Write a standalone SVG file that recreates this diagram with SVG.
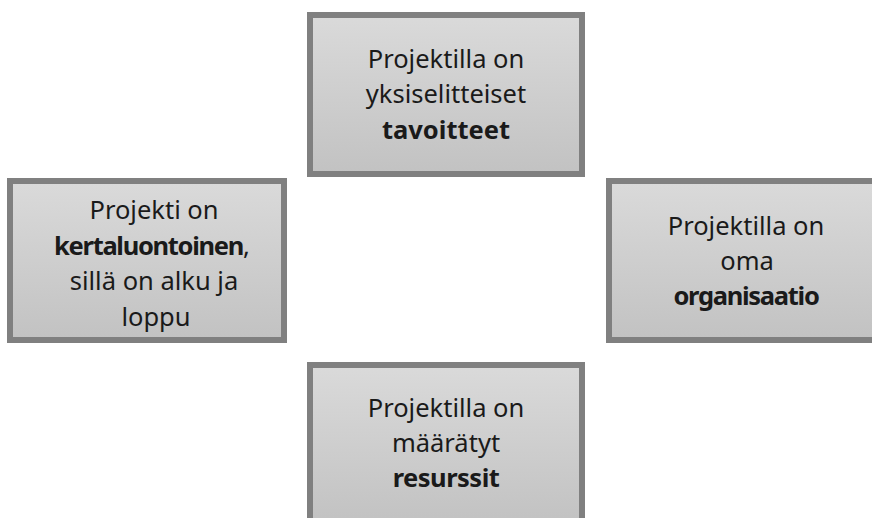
<svg xmlns="http://www.w3.org/2000/svg" width="872" height="518" viewBox="0 0 872 518">
<style>
.box{fill:url(#g);stroke:#808080;stroke-width:6}
.t{font-family:"Noto Sans","Open Sans","Liberation Sans",sans-serif;font-size:25.5px;fill:#1a1a1a;text-anchor:middle}
.b{font-weight:bold}
.n{letter-spacing:-1.3px}
</style>
<defs>
<linearGradient id="g" x1="0" y1="0" x2="0" y2="1">
<stop offset="0" stop-color="#dadada"/>
<stop offset="1" stop-color="#c2c2c2"/>
</linearGradient>
</defs>
<rect width="872" height="518" fill="#ffffff"/>
<g id="top">
<rect class="box" x="310" y="15" width="272" height="159"/>
<text class="t" x="446" y="68">Projektilla on</text>
<text class="t" x="446" y="103">yksiselitteiset</text>
<text class="t b" x="446" y="139">tavoitteet</text>
</g>
<g id="left">
<rect class="box" x="10" y="181" width="274" height="159"/>
<text class="t" x="154" y="219">Projekti on</text>
<text class="t" x="152" y="255"><tspan class="b n">kertaluontoinen</tspan>,</text>
<text class="t" x="154" y="290">sillä on alku ja</text>
<text class="t" x="156" y="326">loppu</text>
</g>
<g id="right">
<rect class="box" x="609" y="181" width="274" height="159"/>
<text class="t" x="746" y="235">Projektilla on</text>
<text class="t" x="747" y="270">oma</text>
<text class="t b n" x="746" y="305">organisaatio</text>
</g>
<g id="bottom">
<rect class="box" x="310" y="365" width="272" height="159"/>
<text class="t" x="446" y="417">Projektilla on</text>
<text class="t" x="446" y="452">määrätyt</text>
<text class="t b" x="446" y="487" letter-spacing="-0.5">resurssit</text>
</g>
<g id="connectors"></g>
</svg>
